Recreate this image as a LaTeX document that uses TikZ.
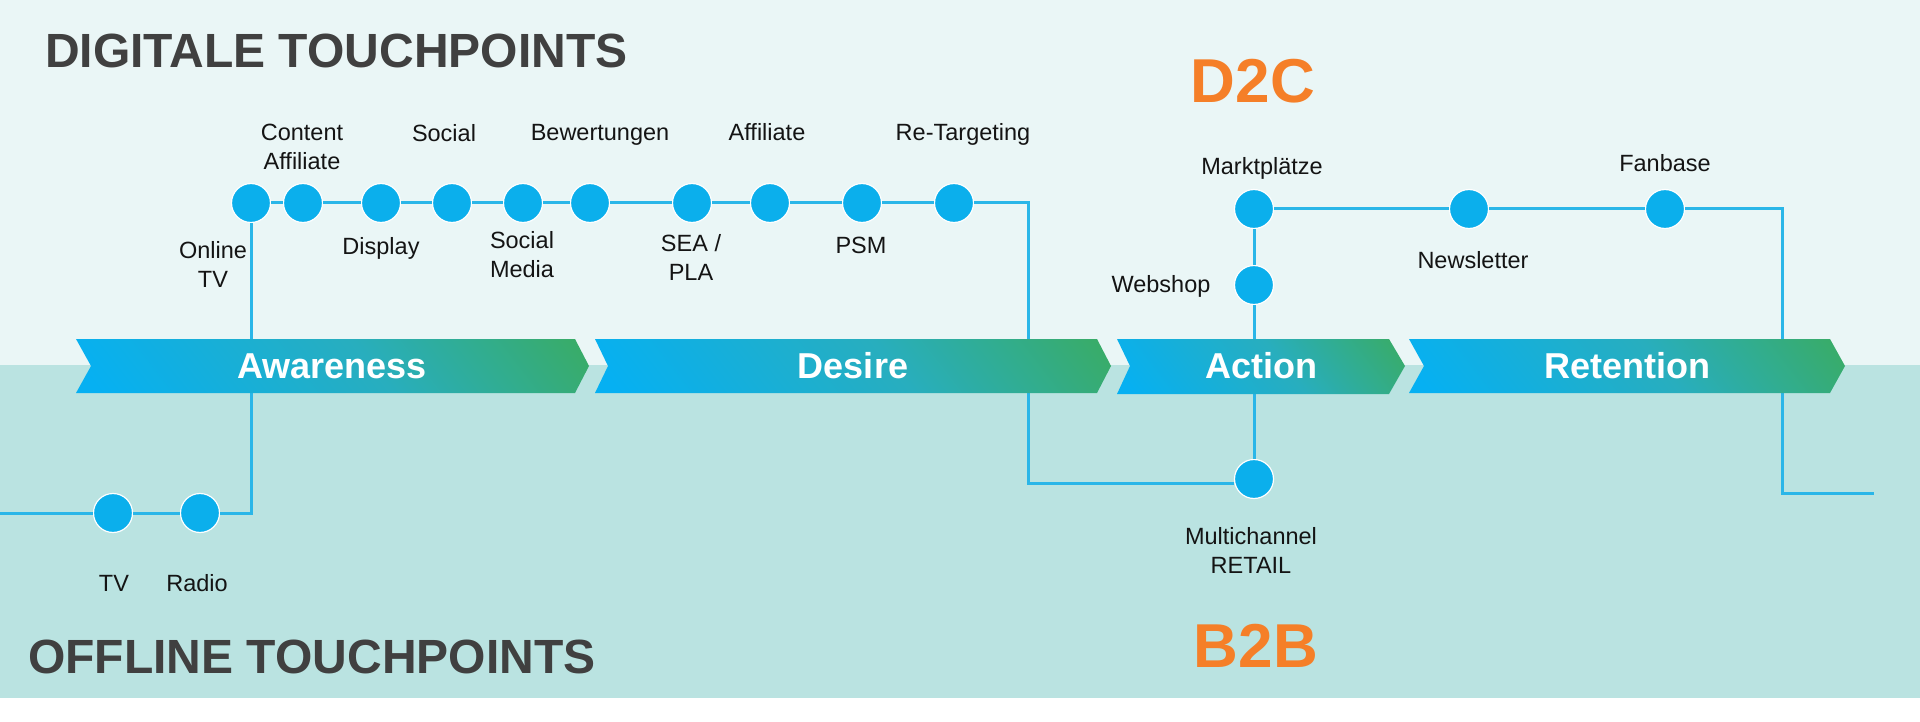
\documentclass[tikz,border=0pt]{standalone}
\usepackage{fontspec}
\setmainfont{Liberation Sans}
\definecolor{topbg}{HTML}{EAF6F6}
\definecolor{botbg}{HTML}{BAE3E1}
\definecolor{dotblue}{HTML}{0BAFEC}
\definecolor{lineblue}{HTML}{2AB6E8}
\definecolor{chb}{HTML}{06B0F2}
\definecolor{chm}{HTML}{28AEBE}
\definecolor{chg}{HTML}{3EAB4E}
\definecolor{headc}{HTML}{404040}
\definecolor{brandc}{HTML}{F57F28}
\definecolor{lblc}{HTML}{141414}
\pgfdeclarehorizontalshading{chevsh}{100bp}{color(0bp)=(chb); color(18bp)=(chb); color(55bp)=(chm); color(92bp)=(chg); color(100bp)=(chg)}
\tikzset{
  tpdot/.style={circle, fill=dotblue, draw=white, line width=1.2pt, minimum size=39pt, inner sep=0pt},
  lbl/.style={font=\fontsize{23.5}{29}\selectfont, text=lblc, align=center, inner sep=0pt},
  link/.style={draw=lineblue, line width=3pt},
  chev/.style={shading=chevsh, shading angle=38},
  chevtxt/.style={font=\bfseries\fontsize{36}{40}\selectfont, text=white, inner sep=0pt},
  heading/.style={font=\bfseries\fontsize{48}{52}\selectfont, text=headc, inner sep=0pt, anchor=west},
  brand/.style={font=\bfseries\fontsize{62}{66}\selectfont, text=brandc, inner sep=0pt},
}
\begin{document}
\begin{tikzpicture}[x=1pt,y=-1pt]
\useasboundingbox (0,0) rectangle (1920,722);
% backgrounds
\fill[white] (0,0) rectangle (1920,722);
\fill[topbg] (0,0) rectangle (1920,365);
\fill[botbg] (0,365) rectangle (1920,698);

% headings
\node[heading] (hdig) at (45,51) {DIGITALE TOUCHPOINTS};
\node[heading] (hoff) at (28,657) {OFFLINE TOUCHPOINTS};
\node[brand] (d2c) at (1253,81) {D2C};
\node[brand] (b2b) at (1256,646) {B2B};

% dots, upper row
\node[tpdot] (c1) at (251,203) {};
\node[tpdot] (c2) at (303,203) {};
\node[tpdot] (c3) at (381,203) {};
\node[tpdot] (c4) at (452,203) {};
\node[tpdot] (c5) at (523,203) {};
\node[tpdot] (c6) at (590,203) {};
\node[tpdot] (c7) at (692,203) {};
\node[tpdot] (c8) at (770,203) {};
\node[tpdot] (c9) at (862,203) {};
\node[tpdot] (c10) at (954,203) {};
% offline dots
\node[tpdot] (tv) at (113,513) {};
\node[tpdot] (radio) at (200,513) {};
% action / retention dots
\node[tpdot] (mk) at (1254,209) {};
\node[tpdot] (ws) at (1254,285) {};
\node[tpdot] (nl) at (1469,209) {};
\node[tpdot] (fb) at (1665,209) {};
\node[tpdot] (mc) at (1254,479) {};

% bend coordinates
\coordinate (k1) at (251,513);
\coordinate (lend) at (0,513);
\coordinate (k2) at (1028,203);
\coordinate (k3) at (1028,483);
\coordinate (k4) at (1782,209);
\coordinate (k5) at (1782,493);
\coordinate (rend) at (1874,493);

% connectors
\draw[link] (c1) -- (k1) -- (radio) -- (tv) -- (lend);
\draw[link] (c1) -- (c2) -- (c3) -- (c4) -- (c5) -- (c6) -- (c7) -- (c8) -- (c9) -- (c10) -- (k2) -- (k3) -- (mc.west |- k3);
\draw[link] (mk) -- (ws) -- (mc);
\draw[link] (mk) -- (nl) -- (fb) -- (k4) -- (k5) -- (rend);

% chevrons
\shade[chev] (76,339) -- (575,339) -- (589,366) -- (575,393) -- (76,393) -- (91,366) -- cycle;
\shade[chev] (595,339) -- (1097,339) -- (1111,366) -- (1097,393) -- (595,393) -- (608,366) -- cycle;
\shade[chev] (1117,339) -- (1389,339) -- (1405,366) -- (1389,394) -- (1117,394) -- (1130,366) -- cycle;
\shade[chev] (1409,339) -- (1830,339) -- (1845,366) -- (1830,393) -- (1409,393) -- (1424,366) -- cycle;
\node[chevtxt] (aw) at (332,366) {Awareness};
\node[chevtxt] (de) at (853,366) {Desire};
\node[chevtxt] (ac) at (1261,366) {Action};
\node[chevtxt] (re) at (1627,366) {Retention};

% labels
\node[lbl] (lc2) at (302,147) {Content\\Affiliate};
\node[lbl] (lc4) at (444,133) {Social};
\node[lbl] (lc6) at (600,135) {Bewertungen};
\node[lbl] (lc8) at (767,132) {Affiliate};
\node[lbl] (lc10) at (963,134) {Re-Targeting};
\node[lbl] (lc1) at (213,264) {Online\\TV};
\node[lbl] (lc3) at (381,248) {Display};
\node[lbl] (lc5) at (522,255) {Social\\Media};
\node[lbl] (lc7) at (691,257) {SEA /\\PLA};
\node[lbl] (lc9) at (861,245) {PSM};
\node[lbl] (lmk) at (1262,168) {Marktplätze};
\node[lbl] (lfb) at (1665,163) {Fanbase};
\node[lbl] (lnl) at (1473,260) {Newsletter};
\node[lbl] (lws) at (1161,286) {Webshop};
\node[lbl] (lmc) at (1251,550) {Multichannel\\RETAIL};
\node[lbl] (ltv) at (114,583) {TV};
\node[lbl] (lra) at (197,583) {Radio};
\end{tikzpicture}
\end{document}
